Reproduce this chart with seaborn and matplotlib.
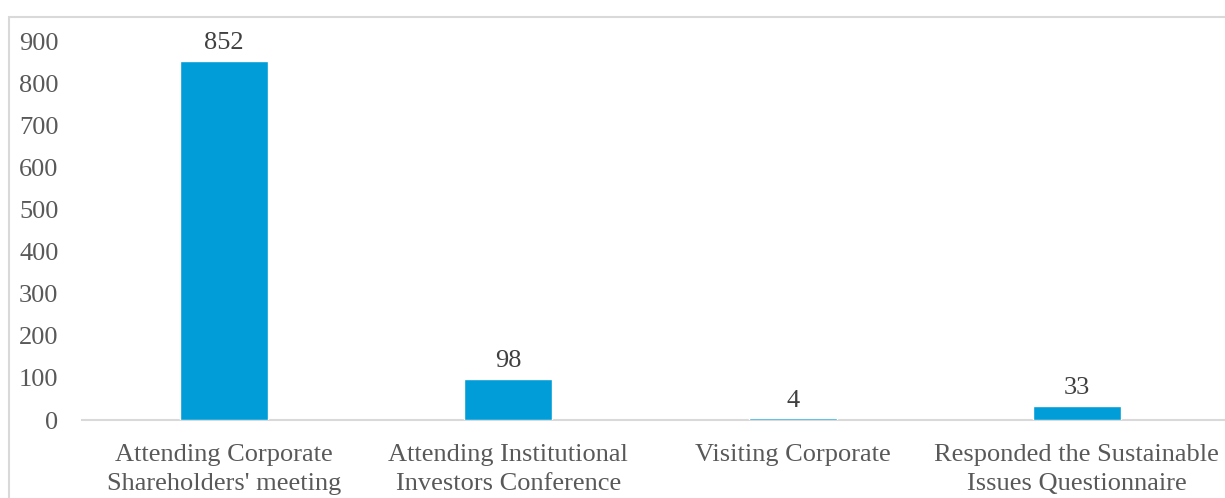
import matplotlib
matplotlib.use("Agg")
import matplotlib.pyplot as plt
import seaborn as sns
import pandas as pd
from matplotlib.patches import Rectangle

# data
categories = [
    "Attending Corporate\nShareholders' meeting",
    "Attending Institutional\nInvestors Conference",
    "Visiting Corporate",
    "Responded the Sustainable\nIssues Questionnaire",
]
counts = [852, 98, 4, 33]
yticks = [0, 100, 200, 300, 400, 500, 600, 700, 800, 900]

sns.set_theme(style="white")
plt.rcParams["font.family"] = ["Liberation Serif", "DejaVu Serif"]

W, H = 1225, 498
fig = plt.figure(figsize=(W / 100, H / 100), dpi=100)
unit = (1219 - 82) / 4.0
ax = fig.add_axes([82 / W, 1 - 420 / H, (W - 82) / W, (420 - 41) / H])

df = pd.DataFrame({"category": categories, "count": counts})
sns.barplot(data=df, x="category", y="count", color="#009DD8", width=0.31,
            saturation=1, ax=ax, zorder=3)

ax.set_ylim(0, 900)
ax.set_xlim(-0.5, 3.5 + (W - 1219) / unit)
ax.set_yticks(yticks)
ax.set_xlabel("")
ax.set_ylabel("")
ax.tick_params(axis="y", length=0, pad=17, labelsize=19, labelcolor="#595959")
ax.tick_params(axis="x", length=0, pad=17, labelsize=19, labelcolor="#595959")
for lbl in ax.get_xticklabels():
    lbl.set_linespacing(1.42)

for s in ["top", "right", "left"]:
    ax.spines[s].set_visible(False)
ax.spines["bottom"].set_color("#D9D9D9")
ax.spines["bottom"].set_linewidth(1.5)
ax.spines["bottom"].set_zorder(1)

for i, v in enumerate(counts):
    ax.text(i, v + 16, str(v), ha="center", va="bottom", fontsize=19,
            color="#404040", clip_on=False)

# outer chart border
fig.patches.append(Rectangle((9 / W, -0.1), 1.2, 1.1 - 17 / H,
                             transform=fig.transFigure, fill=False,
                             edgecolor="#D9D9D9", linewidth=1.5))

fig.savefig("out.png", dpi=100)
